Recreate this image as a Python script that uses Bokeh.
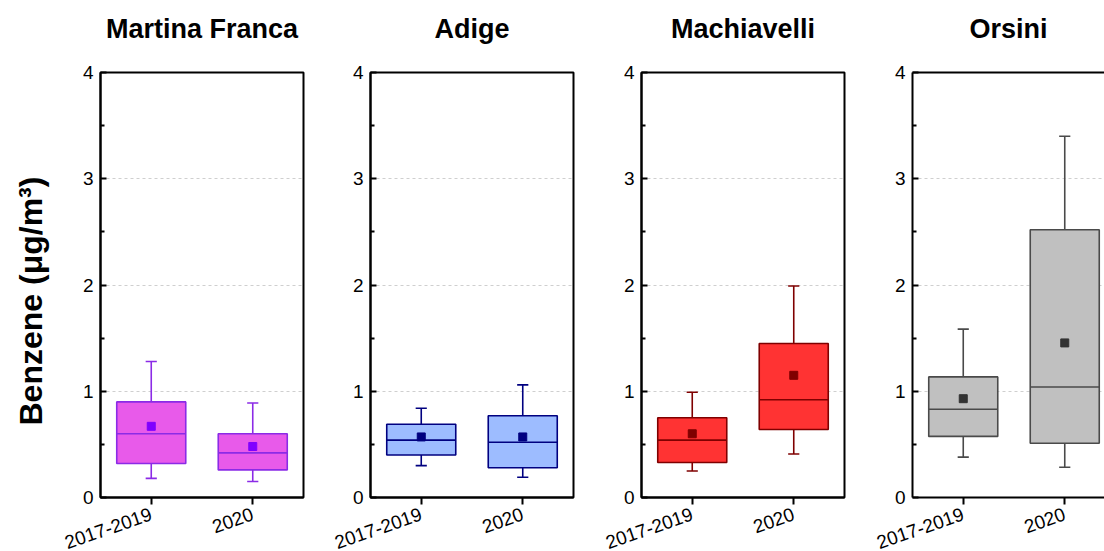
import math
from bokeh.plotting import figure
from bokeh.layouts import row
from bokeh.models import Range1d, FixedTicker, LinearAxis, ColumnDataSource, Title
from bokeh.embed import file_html
from bokeh.resources import INLINE

# ---------------- data ----------------
categories = ["2017-2019", "2020"]
stations = ["Martina Franca", "Adige", "Machiavelli", "Orsini"]

whisker_low = [[0.18, 0.15], [0.30, 0.19], [0.25, 0.41], [0.38, 0.285]]
q1 = [[0.32, 0.26], [0.40, 0.28], [0.33, 0.64], [0.575, 0.51]]
median = [[0.60, 0.42], [0.54, 0.52], [0.54, 0.92], [0.83, 1.04]]
mean = [[0.67, 0.48], [0.57, 0.57], [0.60, 1.15], [0.93, 1.455]]
q3 = [[0.90, 0.60], [0.69, 0.77], [0.75, 1.45], [1.135, 2.52]]
whisker_high = [[1.28, 0.89], [0.84, 1.06], [0.99, 1.99], [1.585, 3.40]]

y_ticks = [0, 1, 2, 3, 4]
y_minor = [0.5, 1.5, 2.5, 3.5]
grid_values = [1, 2, 3]
y_title = "Benzene (\u03bcg/m\u00b3)"

fill_colors = ["#E85AEA", "#9DBCFF", "#FF3333", "#C0C0C0"]
line_colors = ["#8B2BE6", "#000080", "#7F0000", "#4A4A4A"]
mean_colors = ["#8000FF", "#000080", "#7F0000", "#333333"]

# ---------------- layout ----------------
left_borders = [100, 65, 66, 66]
frame_widths = [203, 203, 203, 192]
right_borders = [2, 2, 2, 0]
px_per_unit = 203 / 2.0
FONT = "Liberation Sans"
box_w = 0.68
cap_w = 0.11


def spacer(gap):
    return Title(text=" ", text_font_size="1px", standoff=gap, text_color="white")


figs = []
for i, st in enumerate(stations):
    fw = frame_widths[i]
    p = figure(frame_width=fw, frame_height=425,
               min_border_left=left_borders[i], min_border_right=right_borders[i],
               min_border_top=72, min_border_bottom=0,
               x_range=Range1d(0, fw / px_per_unit), y_range=Range1d(0, 4),
               output_backend="svg", toolbar_location=None, title=None)
    p.background_fill_color = "white"
    p.border_fill_color = "white"

    gap = 26
    if i == 3:
        p.outline_line_color = None
        top = LinearAxis(ticker=FixedTicker(ticks=[], minor_ticks=[]), axis_line_width=2,
                         axis_line_color="black", major_tick_in=0, major_tick_out=0,
                         minor_tick_in=0, minor_tick_out=0, major_label_standoff=0,
                         axis_label_standoff=0, major_label_text_font_size="0px")
        p.add_layout(top, "above")
    else:
        p.outline_line_color = "black"
        p.outline_line_width = 2
        p.outline_line_alpha = 1

    p.add_layout(spacer(gap), "above")
    p.add_layout(Title(text=st, align="center", standoff=0, text_font=FONT,
                       text_font_size="27px", text_font_style="bold",
                       text_color="black"), "above")

    xs = [k + 0.5 for k in range(len(categories))]
    src = ColumnDataSource(dict(
        x=xs,
        x_left=[x - box_w / 2 for x in xs],
        x_right=[x + box_w / 2 for x in xs],
        cap_l=[x - cap_w / 2 for x in xs],
        cap_r=[x + cap_w / 2 for x in xs],
        low=whisker_low[i], q1=q1[i], med=median[i], mean=mean[i],
        q3=q3[i], high=whisker_high[i],
    ))
    lc = line_colors[i]
    # whiskers
    p.segment(x0="x", y0="q3", x1="x", y1="high", source=src, line_color=lc, line_width=1.6)
    p.segment(x0="x", y0="low", x1="x", y1="q1", source=src, line_color=lc, line_width=1.6)
    p.segment(x0="cap_l", y0="high", x1="cap_r", y1="high", source=src, line_color=lc, line_width=1.6)
    p.segment(x0="cap_l", y0="low", x1="cap_r", y1="low", source=src, line_color=lc, line_width=1.6)
    # boxes
    p.vbar(x="x", width=box_w, bottom="q1", top="q3", source=src,
           fill_color=fill_colors[i], line_color=lc, line_width=1.6)
    p.segment(x0="x_left", y0="med", x1="x_right", y1="med", source=src, line_color=lc, line_width=1.6)
    p.scatter(x="x", y="mean", source=src, marker="square", size=8,
              fill_color=mean_colors[i], line_color=mean_colors[i])

    # grid
    p.xgrid.visible = False
    p.ygrid.ticker = FixedTicker(ticks=grid_values)
    p.ygrid.grid_line_color = "#CFCFCF"
    p.ygrid.grid_line_dash = "3 3"
    p.ygrid.grid_line_width = 1

    # y axis
    ya = p.left[0]
    ya.ticker = FixedTicker(ticks=y_ticks, minor_ticks=y_minor)
    ya.axis_line_width = 2
    ya.axis_line_color = "black"
    ya.major_tick_in = 6
    ya.major_tick_out = 0
    ya.major_tick_line_width = 2
    ya.minor_tick_in = 4
    ya.minor_tick_out = 0
    ya.minor_tick_line_width = 2
    ya.major_label_text_font = FONT
    ya.major_label_text_font_size = "19px"
    ya.major_label_text_color = "black"
    ya.major_label_standoff = 7
    if i == 0:
        p.add_layout(spacer(28), "left")
        yt = Title(text=y_title, align="left", offset=72, standoff=0,
                   text_font=FONT, text_font_size="32px", text_font_style="bold",
                   text_color="black")
        p.add_layout(yt, "left")

    # x axis
    xa = p.below[0]
    xa.ticker = FixedTicker(ticks=xs, minor_ticks=[])
    xa.major_label_overrides = {x: c for x, c in zip(xs, categories)}
    xa.major_label_orientation = math.radians(19)
    xa.axis_line_width = 2
    xa.axis_line_color = "black"
    xa.major_tick_in = 0
    xa.major_tick_out = 7
    xa.major_tick_line_width = 2
    xa.minor_tick_line_color = None
    xa.major_label_text_font = FONT
    xa.major_label_text_font_size = "19px"
    xa.major_label_text_color = "black"
    xa.major_label_standoff = 9

    figs.append(p)

layout = row(*figs)
open("out.html", "w").write(file_html(layout, INLINE))
